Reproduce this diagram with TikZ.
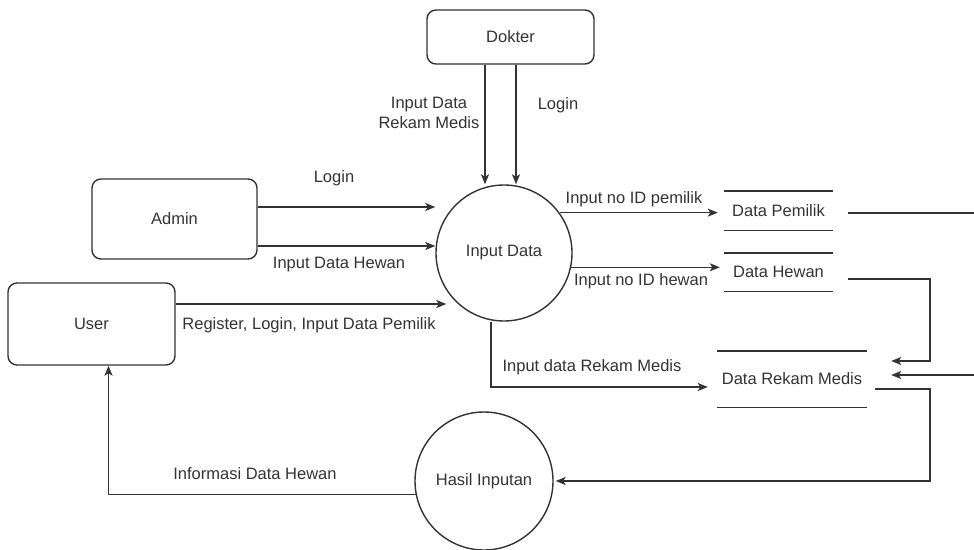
\documentclass[tikz,border=0pt]{standalone}
\usepackage{fontspec}
\setmainfont{Liberation Sans}
\usetikzlibrary{arrows.meta,calc}

\definecolor{ink}{RGB}{51,51,51}
\tikzstyle{entity} = [draw=ink, line width=1.4pt, rounded corners=9pt, inner sep=0pt]
\tikzstyle{process} = [draw=ink, line width=1.4pt, circle, inner sep=0pt, minimum size=136pt]
\tikzstyle{store} = [inner sep=0pt]
\tikzstyle{storeline} = [draw=ink, line width=1.4pt]
\tikzstyle{flow} = [draw=ink, line width=1.4pt, -{Stealth[length=10pt,width=8pt,inset=2.5pt]}]

\begin{document}
\begin{tikzpicture}[x=1pt, y=-1pt, every node/.style={text=ink, font=\fontsize{16.5}{20.5}\selectfont}]
      \useasboundingbox (0,0) rectangle (974,549);

      \node[entity, minimum width=167pt, minimum height=54pt] (dokter) at (510.5,37) {Dokter};
      \node[entity, minimum width=165pt, minimum height=80pt] (admin) at (174.5,219) {Admin};
      \node[entity, minimum width=167pt, minimum height=82pt] (user) at (91.5,324) {User};
      \node[process] (indata) at (504,253) {Input Data};
      \node[process, minimum size=138pt] (hasil) at (484,481) {Hasil Inputan};

      \node[store, minimum width=109pt, minimum height=39pt] (dp) at (778.5,210.5) {Data Pemilik};
      \node[store, minimum width=109pt, minimum height=38pt] (dh) at (778.5,272) {Data Hewan};
      \node[store, minimum width=150pt, minimum height=56pt] (drm) at (792,379) {Data Rekam Medis};
      \draw[storeline] (dp.north west) -- (dp.north east);
      \draw[storeline] (dp.south west) -- (dp.south east);
      \draw[storeline] (dh.north west) -- (dh.north east);
      \draw[storeline] (dh.south west) -- (dh.south east);
      \draw[storeline] (drm.north west) -- (drm.north east);
      \draw[storeline] (drm.south west) -- (drm.south east);

      \coordinate (rail) at (930,0);
      \coordinate (edge) at (978,0);
      \coordinate (d1) at ($(dokter.south)+(-25.5,0)$);
      \coordinate (d2) at ($(dokter.south)+(5.5,0)$);
      \coordinate (a1) at ($(admin.east)+(0,-12)$);
      \coordinate (a2) at ($(admin.east)+(0,27)$);
      \coordinate (u1) at ($(user.east)+(0,-20)$);
      \coordinate (u2) at ($(user.south)+(17,0)$);
      \coordinate (r1) at ($(indata.south)+(-13,0)$);
      \coordinate (p2) at ($(dp.east)+(15,2.5)$);
      \coordinate (h1) at ($(dh.east)+(15,7)$);
      \coordinate (h2) at ($(drm.east)+(24,-18)$);
      \coordinate (h3) at ($(drm.east)+(24,-4)$);
      \coordinate (m1) at ($(drm.east)+(8,10)$);

      \draw[flow] (d1) -- (d1 |- indata.north);
      \draw[flow] (d2) -- (d2 |- indata.north);
      \draw[flow] (a1) -- (a1 -| indata.west);
      \draw[flow] (a2) -- (a2 -| indata.west);
      \draw[flow] (u1) -- ($(u1 -| indata.west)+(11,0)$);
      \draw[flow] (indata.36) -- ($(indata.36 -| dp.west)+(-6,0)$);
      \draw[flow] (indata.-12) -- ($(indata.-12 -| dh.west)+(-4,0)$);
      \draw[flow] (r1) |- ($(drm.west)+(-9,8)$);
      \draw[flow] (h1) -| (rail |- h2) -- (h2);
      \draw[flow] (p2) -| (edge |- h3) -- (h3);
      \draw[flow] (m1) -| (rail |- hasil.east) -- ($(hasil.east)+(2,0)$);
      \draw[flow] (hasil.191) -| (u2);

      \node[align=center] (ldr) at (429,113) {Input Data\\Rekam Medis};
      \node (ldl) at (558,105) {Login};
      \node (lal) at (334,178) {Login};
      \node (lah) at (339,265) {Input Data Hewan};
      \node (lur) at (309,325) {Register, Login, Input Data Pemilik};
      \node (lpm) at (634,199) {Input no ID pemilik};
      \node (lhw) at (641,281) {Input no ID hewan};
      \node (lrm) at (592,367) {Input data Rekam Medis};
      \node (lin) at (255,474) {Informasi Data Hewan};
    \end{tikzpicture}
\end{document}
